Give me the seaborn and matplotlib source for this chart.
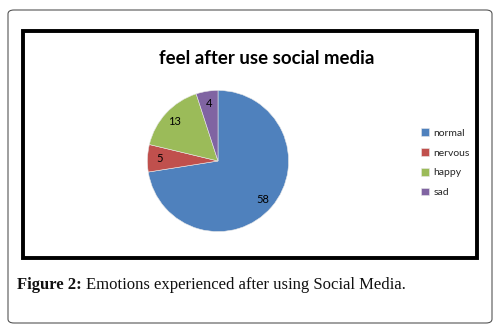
import numpy as np
import pandas as pd
import seaborn as sns
import matplotlib.pyplot as plt
from matplotlib.patches import FancyBboxPatch, Rectangle


# DATA
emotions = ["normal", "nervous", "happy", "sad"]
counts = [58, 5, 13, 4]
colors = ["#4F81BD", "#C0504D", "#9BBB59", "#8064A2"]

df = pd.DataFrame({"Emotion": emotions, "Count": counts})

sns.set_theme(style="white")
plt.rcParams["font.family"] = ["Lato", "DejaVu Sans"]

W, H = 503, 330
fig = plt.figure(figsize=(W / 100, H / 100), dpi=100)
fig.patch.set_facecolor("white")

# outer rounded box
fig.patches.append(FancyBboxPatch((8 / W, 1 - 323 / H), 484 / W, 313 / H,
                                  boxstyle="round,pad=0,rounding_size=0.012",
                                  transform=fig.transFigure, facecolor="none",
                                  edgecolor="#555555", linewidth=0.8, zorder=-2))
# inner chart frame
fig.patches.append(Rectangle((23 / W, 1 - 258 / H), 454 / W, 227 / H,
                             transform=fig.transFigure, facecolor="none",
                             edgecolor="black", linewidth=2.8, zorder=-1))

# PIE
cx, cy, r = 218, 161, 72
ax = fig.add_axes([(cx - r) / W, 1 - (cy + r) / H, 2 * r / W, 2 * r / H])
wedges, texts, autotexts = ax.pie(df["Count"], colors=colors, startangle=90,
                                  counterclock=False, radius=1,
                                  autopct=lambda p: f"{p * sum(counts) / 100:.0f}",
                                  pctdistance=0.83,
                                  wedgeprops={"linewidth": 0.4, "edgecolor": "#e8e8e8"},
                                  textprops={"fontsize": 8, "color": "black"})
ax.set_xlim(-1.02, 1.02)
ax.set_ylim(-1.02, 1.02)
ax.set_axis_off()

# TITLE
fig.text(267 / W, 1 - 58 / H, "feel after use social media", ha="center", va="center",
         fontsize=13.4, fontweight="bold", color="black")

# LEGEND
leg = fig.legend(wedges, emotions, loc="upper left", bbox_to_anchor=(416 / W, 1 - 123 / H),
                 frameon=False, fontsize=7.5, handlelength=0.75, handleheight=0.75,
                 handletextpad=0.4, labelspacing=1.0, borderpad=0)

# CAPTION
t1 = fig.text(17 / W, 1 - 285 / H, "Figure 2:", ha="left", va="center", fontsize=12,
              fontweight="bold", family="Liberation Serif", color="#111111")
fig.canvas.draw()
bb = t1.get_window_extent()
fig.text(bb.x1 / W + 4 / W, 1 - 285 / H, "Emotions experienced after using Social Media.",
         ha="left", va="center", fontsize=12, family="Liberation Serif", color="#111111")

fig.savefig("out.png", dpi=100)
